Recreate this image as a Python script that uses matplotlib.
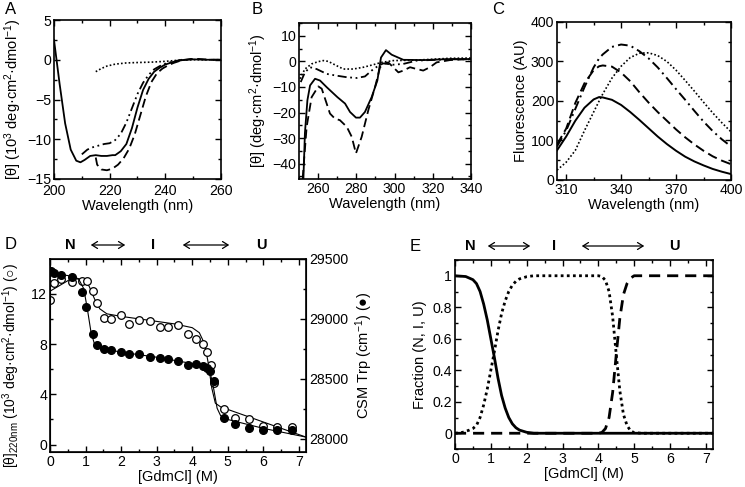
import numpy as np
import matplotlib
matplotlib.use("Agg")
import matplotlib.pyplot as plt
from matplotlib.ticker import MultipleLocator, FixedLocator

plt.rcParams['font.family'] = ['Liberation Sans', 'DejaVu Sans']
plt.rcParams['mathtext.fontset'] = 'custom'
plt.rcParams['mathtext.rm'] = 'Liberation Sans'
plt.rcParams['mathtext.it'] = 'Liberation Sans:italic'
plt.rcParams['font.size'] = 10.2

# ---- panel A : far-UV CD ----
a_solid_x = [200, 202, 204, 206, 208, 209.5, 211, 213, 215, 217, 219, 221, 222, 224, 226, 228, 230, 232, 234, 236, 238, 240, 243, 246, 250, 255, 260]
a_solid_y = [2.5, -3, -8, -11.3, -12.7, -12.9, -12.6, -12.1, -12.0, -12.1, -12.1, -12.0, -12.0, -11.5, -10.6, -8.6, -6.0, -3.8, -2.4, -1.5, -1.0, -0.6, -0.25, -0.05, 0.05, 0.0, 0.0]
a_dash_x = [215, 215.5, 217, 219, 221, 223, 225, 227, 229, 231, 233, 235, 237, 239, 241, 243, 246, 249, 252, 256, 260]
a_dash_y = [-12.3, -13.2, -13.8, -13.9, -13.7, -13.2, -12.4, -11.2, -9.4, -7.0, -4.6, -2.8, -1.7, -1.1, -0.7, -0.4, -0.05, 0.1, 0.1, 0.0, 0.0]
a_dd_x = [210, 212, 214, 216, 218, 220, 222, 224, 226, 228, 230, 232, 234, 236, 238, 240, 243, 246]
a_dd_y = [-11.9, -11.3, -11.0, -10.8, -10.6, -10.5, -10.1, -9.3, -7.9, -6.1, -4.3, -2.9, -1.9, -1.2, -0.8, -0.5, -0.2, 0.0]
a_dot_x = [215, 217, 219, 222, 226, 230, 235, 240, 245, 250, 260]
a_dot_y = [-1.5, -1.1, -0.8, -0.55, -0.4, -0.35, -0.3, -0.2, -0.05, 0.0, 0.0]

# ---- panel B : near-UV CD ----
b_solid_x = [252.3, 253.1, 254.4, 255.8, 258.4, 261.0, 264.5, 270.1, 274.1, 276.7, 279.8, 281.9, 284.5, 288.0, 291.0, 292.9, 295.5, 298.5, 304.6, 315.1, 329, 339.8]
b_solid_y = [-46, -28, -15.2, -9.4, -6.8, -7.5, -10.1, -14, -16.5, -19.8, -22, -22, -19.8, -14, -7.5, 1.5, 4.4, 2.6, 0.6, 0.5, 0.9, 0.9]
b_dash_x = [251.9, 254.0, 256.6, 260.1, 261.9, 266.2, 268.8, 271.4, 275.0, 277.6, 279.8, 282.8, 286.3, 289.8, 292.4, 295.0, 296.7, 299.3, 302.0, 304.6, 308.1, 311.6, 315.0, 318.5, 322.0, 329, 339.8]
b_dash_y = [-46, -25.6, -14, -9.8, -10.7, -20.4, -22.4, -23, -25.6, -29.5, -36, -29.5, -19, -10, -2.3, -0.8, -0.4, -2.3, -4.3, -3.6, -2.3, -3, -3.6, -2.3, -0.4, 0.5, 0.9]
b_dd_x = [250.9, 253.1, 255.8, 259.2, 264.5, 269.7, 275.0, 280.2, 284.5, 288.0, 291.5, 294.1, 299.3, 304.6, 311.6, 329, 339.8]
b_dd_y = [-8.1, -4.3, -2.3, -3, -4.9, -5.6, -6.2, -6.5, -5.9, -3.6, -1.7, -0.8, -1.3, -1, 0.3, 0.8, 0.8]
b_dot_x = [250.5, 253.1, 256.6, 260.1, 262.7, 265.3, 269.7, 273.2, 278.4, 283.7, 288.9, 293.2, 299.3, 311.6, 329, 339.8]
b_dot_y = [-6.8, -3, -1, -0.1, 0.3, 0, -1.7, -3, -3, -2.3, -1.3, -0.4, 0.3, 0.5, 1.2, 1.3]

# ---- panel C : fluorescence ----
c_x = [305, 310, 315, 320, 325, 328, 330, 335, 340, 345, 350, 355, 360, 365, 370, 375, 380, 385, 390, 395, 400]
c_solid = [75, 110, 150, 183, 204, 210, 209, 203, 190, 172, 152, 131, 110, 91, 74, 59, 47, 37, 28, 21, 15]
c_dash = [90, 130, 195, 245, 278, 288, 290, 287, 272, 250, 222, 196, 172, 150, 128, 108, 90, 74, 60, 49, 40]
c_dd = [85, 125, 180, 235, 285, 308, 318, 337, 343, 340, 326, 308, 285, 258, 230, 203, 175, 148, 124, 103, 85]
c_dot = [25, 45, 75, 125, 172, 200, 218, 258, 288, 310, 321, 322, 315, 300, 278, 252, 225, 197, 170, 145, 122]

# ---- panel D : GdmCl titration ----
d_open_x = [0, 0.12, 0.31, 0.61, 0.91, 1.03, 1.22, 1.31, 1.52, 1.72, 2.01, 2.22, 2.51, 2.81, 3.09, 3.31, 3.61, 3.89, 4.1, 4.31, 4.42, 4.52, 4.61, 4.89, 5.2, 5.6, 6.0, 6.39, 6.81]
d_open_y = [11.5, 12.85, 13.15, 12.9, 13.0, 13.0, 12.2, 11.25, 10.1, 10.0, 10.27, 9.6, 9.9, 9.8, 9.36, 9.36, 9.5, 8.78, 8.4, 8.0, 7.4, 6.3, 4.87, 2.87, 2.13, 2.0, 1.46, 1.4, 1.4]
d_fill_x = [0.02, 0.12, 0.31, 0.61, 0.91, 1.01, 1.2, 1.32, 1.52, 1.72, 2.01, 2.22, 2.51, 2.81, 3.09, 3.31, 3.61, 3.89, 4.11, 4.31, 4.42, 4.5, 4.61, 4.89, 5.2, 5.6, 6.0, 6.39, 6.81]
d_fill_y = [29397, 29383, 29363, 29346, 29221, 29098, 28872, 28779, 28749, 28737, 28721, 28709, 28707, 28684, 28676, 28665, 28645, 28617, 28620, 28606, 28592, 28564, 28480, 28176, 28120, 28089, 28070, 28070, 28070]
d_ofit_x = [0, 0.3, 0.6, 0.9, 1.1, 1.25, 1.4, 1.6, 2, 3, 3.5, 4, 4.2, 4.35, 4.45, 4.55, 4.65, 4.8, 5, 6, 7.2]
d_ofit_y = [12.2, 12.7, 13.2, 13.15, 12.6, 11.6, 10.8, 10.4, 10.2, 9.8, 9.6, 9.3, 8.9, 8.0, 6.5, 4.5, 3.3, 3.0, 2.8, 1.8, 0.6]
d_ffit_x = [0, 0.5, 0.8, 0.95, 1.05, 1.15, 1.25, 1.4, 2, 3, 4, 4.4, 4.5, 4.6, 4.7, 4.8, 5, 6, 7.2]
d_ffit_y = [29378, 29362, 29336, 29252, 29084, 28895, 28790, 28758, 28722, 28680, 28627, 28601, 28559, 28422, 28254, 28191, 28160, 28086, 28013]

# ---- panel E : species fractions ----
e_n_x = [0, 0.3, 0.5, 0.6, 0.7, 0.8, 0.9, 1.0, 1.1, 1.2, 1.3, 1.4, 1.5, 1.6, 1.7, 1.8, 2.0, 2.2, 7.2]
e_n_y = [1.0, 0.995, 0.975, 0.95, 0.9, 0.82, 0.72, 0.6, 0.48, 0.35, 0.24, 0.16, 0.1, 0.06, 0.035, 0.02, 0.006, 0.0, 0.0]
e_i_x = [0, 0.2, 0.4, 0.5, 0.6, 0.7, 0.8, 0.9, 1.0, 1.1, 1.2, 1.3, 1.4, 1.5, 1.6, 1.7, 1.8, 2.0, 2.2, 4.0, 4.1, 4.2, 4.3, 4.4, 4.5, 4.6, 4.7, 4.8, 4.9, 5.0, 5.2, 7.2]
e_i_y = [0, 0.005, 0.02, 0.03, 0.05, 0.1, 0.18, 0.28, 0.4, 0.52, 0.65, 0.76, 0.84, 0.9, 0.94, 0.965, 0.98, 0.994, 1.0, 1.0, 0.995, 0.97, 0.9, 0.74, 0.5, 0.27, 0.12, 0.05, 0.015, 0.004, 0, 0]
e_u_x = [0, 4.0, 4.1, 4.2, 4.3, 4.4, 4.5, 4.6, 4.7, 4.8, 4.9, 5.0, 7.2]
e_u_y = [0, 0, 0.005, 0.03, 0.1, 0.26, 0.5, 0.73, 0.88, 0.95, 0.985, 1.0, 1.0]

W, H = 745, 487
fig = plt.figure(figsize=(W / 100, H / 100), dpi=100)


def box(l, t, r, b):
    return [l / W, 1 - b / H, (r - l) / W, (b - t) / H]


def style(ax, right=True):
    for s in ax.spines.values():
        s.set_linewidth(1.2)
    ax.tick_params(which='both', direction='in', top=True, right=right, width=1.0)
    ax.tick_params(which='major', length=4.5, pad=2)
    ax.tick_params(which='minor', length=2.5)


dash = (0, (5, 2.5))
dashdotdot = (0, (5, 2, 1, 2, 1, 2))
dashdot = (0, (5, 2.2, 1, 2.2))
dotted = (0, (1, 1.3))
LS = 10.5

# A
ax = fig.add_axes(box(54, 20, 221, 179))
ax.plot(a_solid_x, a_solid_y, color='k', lw=1.3)
ax.plot(a_dash_x, a_dash_y, color='k', lw=1.3, ls=dash)
ax.plot(a_dd_x, a_dd_y, color='k', lw=1.3, ls=dashdotdot)
ax.plot(a_dot_x, a_dot_y, color='k', lw=1.2, ls=dotted)
ax.set_xlim(200, 260)
ax.set_ylim(-15, 5)
ax.xaxis.set_major_locator(MultipleLocator(20))
ax.xaxis.set_minor_locator(MultipleLocator(10))
ax.set_yticks([-15, -10, -5, 0, 5])
ax.set_yticklabels(['\u221215', '\u221210', '\u22125', '0', '5'])
ax.yaxis.set_minor_locator(MultipleLocator(2.5))
ax.set_xlabel('Wavelength (nm)', fontsize=LS, labelpad=1)
ax.set_ylabel(r'[θ] (10$^3$ deg·cm$^2$·dmol$^{-1}$)', fontsize=LS, labelpad=2)
style(ax)
ax.tick_params(axis='x', pad=3.5)
fig.text(5 / W, 1 - 10 / H, 'A', fontsize=12, va='center')

# B
ax = fig.add_axes(box(299, 23, 471, 179))
ax.plot(b_solid_x, b_solid_y, color='k', lw=1.3)
ax.plot(b_dash_x, b_dash_y, color='k', lw=1.3, ls=dash)
ax.plot(b_dd_x, b_dd_y, color='k', lw=1.3, ls=dashdotdot)
ax.plot(b_dot_x, b_dot_y, color='k', lw=1.2, ls=dotted)
ax.set_xlim(250, 340)
ax.set_ylim(-46, 15)
ax.set_xticks([260, 280, 300, 320, 340])
ax.xaxis.set_minor_locator(MultipleLocator(10))
ax.set_yticks([-40, -30, -20, -10, 0, 10])
ax.set_yticklabels(['\u221240', '\u221230', '\u221220', '\u221210', '0', '10'])
ax.yaxis.set_minor_locator(MultipleLocator(5))
ax.set_xlabel('Wavelength (nm)', fontsize=LS, labelpad=1)
ax.set_ylabel(r'[θ] (deg·cm$^2$·dmol$^{-1}$)', fontsize=LS, labelpad=2)
style(ax)
fig.text(252 / W, 1 - 10 / H, 'B', fontsize=12, va='center')

# C
ax = fig.add_axes(box(557, 22, 731, 180))
ax.plot(c_x, c_solid, color='k', lw=1.4)
ax.plot(c_x, c_dash, color='k', lw=1.4, ls=dash)
ax.plot(c_x, c_dd, color='k', lw=1.4, ls=dashdot)
ax.plot(c_x, c_dot, color='k', lw=1.2, ls=dotted)
ax.set_xlim(305, 400)
ax.set_ylim(0, 400)
ax.set_xticks([310, 340, 370, 400])
ax.xaxis.set_minor_locator(FixedLocator([325, 355, 385]))
ax.yaxis.set_major_locator(MultipleLocator(100))
ax.yaxis.set_minor_locator(MultipleLocator(50))
ax.set_xlabel('Wavelength (nm)', fontsize=LS, labelpad=1)
ax.set_ylabel('Fluorescence (AU)', fontsize=LS, labelpad=2)
style(ax)
fig.text(492 / W, 1 - 9 / H, 'C', fontsize=12, va='center')

# D
ax = fig.add_axes(box(50, 259, 306, 452))
ax.plot(d_ofit_x, d_ofit_y, color='k', lw=0.8)
ax.plot(d_open_x, d_open_y, 'o', ms=5.5, mfc='white', mec='k', mew=0.9)
ax.set_xlim(0, 7.2)
ax.set_ylim(-0.585, 14.76)
ax.xaxis.set_major_locator(MultipleLocator(1))
ax.xaxis.set_minor_locator(MultipleLocator(0.5))
ax.yaxis.set_major_locator(MultipleLocator(4))
ax.yaxis.set_minor_locator(MultipleLocator(2))
ax.set_xlabel('[GdmCl] (M)', fontsize=LS, labelpad=1)
ax.set_ylabel(r'[θ]$_{\mathrm{220nm}}$ (10$^3$ deg·cm$^2$·dmol$^{-1}$) (○)', fontsize=10)
ax.yaxis.set_label_coords(-0.108, 0.45)
style(ax, right=False)
ax2 = ax.twinx()
ax2.plot(d_ffit_x, d_ffit_y, color='k', lw=0.8)
ax2.plot(d_fill_x, d_fill_y, 'o', ms=5.5, color='k')
ax2.set_ylim(27888.6, 29500)
ax2.yaxis.set_major_locator(MultipleLocator(500))
ax2.yaxis.set_minor_locator(MultipleLocator(250))
ax2.tick_params(which='both', direction='in', width=1.0, pad=2)
ax2.tick_params(which='major', length=4.5)
ax2.tick_params(which='minor', length=2.5)
ax2.set_ylabel(r'CSM Trp (cm$^{-1}$) (●)', fontsize=LS, labelpad=4)
fig.text(5 / W, 1 - 245 / H, 'D', fontsize=12, va='center')

# E
ax = fig.add_axes(box(455, 260, 713, 449))
ax.plot(e_n_x, e_n_y, color='k', lw=2.0)
ax.plot(e_i_x, e_i_y, color='k', lw=2.0, ls=(0, (1, 1.2)))
ax.plot(e_u_x, e_u_y, color='k', lw=2.0, ls=(0, (4, 2.5)))
ax.set_xlim(0, 7.2)
ax.set_ylim(-0.1, 1.1)
ax.xaxis.set_major_locator(MultipleLocator(1))
ax.xaxis.set_minor_locator(MultipleLocator(0.5))
ax.set_yticks([0, 0.2, 0.4, 0.6, 0.8, 1])
ax.set_yticklabels(['0', '0.2', '0.4', '0.6', '0.8', '1'])
ax.yaxis.set_minor_locator(MultipleLocator(0.1))
ax.set_xlabel('[GdmCl] (M)', fontsize=LS, labelpad=1)
ax.set_ylabel('Fraction (N, I, U)', fontsize=LS, labelpad=4)
style(ax)
fig.text(410 / W, 1 - 246 / H, 'E', fontsize=12, va='center')

# N <-> I <-> U headers
for nx, a1, a2, ix, b1, b2, ux, yy in [(70, 88, 128, 153, 180, 232, 261, 245),
                                       (470, 485, 533, 554, 579, 647, 674, 246)]:
    yf = 1 - yy / H
    for lx, t in [(nx, 'N'), (ix, 'I'), (ux, 'U')]:
        fig.text(lx / W, yf, t, fontsize=10.5, fontweight='bold', ha='center', va='center')
    for s, e in [(a1, a2), (b1, b2)]:
        fig.add_artist(matplotlib.patches.FancyArrowPatch((s / W, yf), (e / W, yf),
                       transform=fig.transFigure, arrowstyle='<->,head_length=4,head_width=2.5',
                       lw=0.9, color='k'))

fig.savefig('out.png', dpi=100)
